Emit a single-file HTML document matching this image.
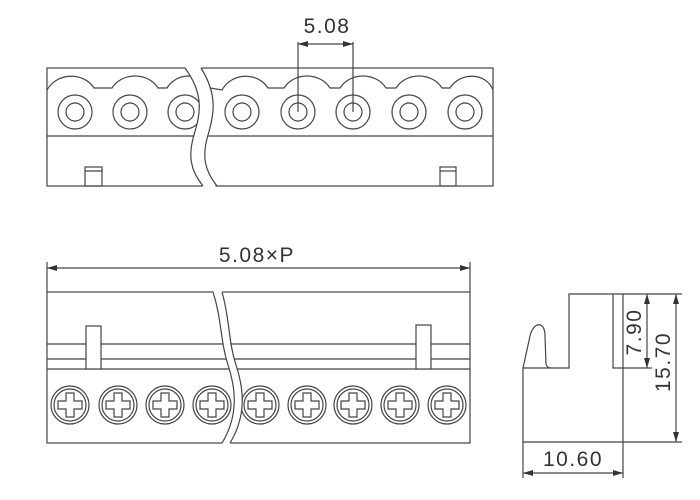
<!DOCTYPE html>
<html><head><style>body{margin:0;background:#fff}svg{display:block}</style></head><body>
<svg width="700" height="500" viewBox="0 0 700 500" xmlns="http://www.w3.org/2000/svg" font-family="Liberation Sans, sans-serif">
<defs>
<marker id="a" viewBox="0 0 10 6" refX="10" refY="3" markerWidth="12" markerHeight="6" orient="auto-start-reverse" markerUnits="userSpaceOnUse"><path d="M0,0L10,3L0,6z" fill="#333"/></marker>
<g id="scr"><circle r="19" fill="#fff" stroke="#444" stroke-width="1.2"/><circle r="16" fill="none" stroke="#444" stroke-width="1.2"/><path d="M-4,-12H4V-4H12V4H4V12H-4V4H-12V-4H-4Z" fill="none" stroke="#444" stroke-width="1.2"/></g>
<g id="hole"><circle r="17" fill="#fff" stroke="#444" stroke-width="1.2"/><circle r="9" fill="none" stroke="#444" stroke-width="1.2"/></g>
</defs>
<g stroke="#444" stroke-width="1.2" fill="none">
<rect x="47" y="68" width="446" height="118"/>
<line x1="47" y1="136" x2="493" y2="136"/>
<path d="M47,90 C57,72 84,72 94,88 L112,88 C122,72 148,72 158,88 L167,88 C177,72 200,72 210,88 L222,90 C232,72 258,72 268,88 L284,88 C294,72 320,72 330,88 L340,88 C350,72 376,72 386,88 L396,88 C406,72 432,72 442,88 L450,88 C460,72 486,72 493,90"/>
<use href="#hole" x="75" y="112"/><use href="#hole" x="130" y="112"/><use href="#hole" x="185" y="112"/><use href="#hole" x="242" y="112"/><use href="#hole" x="298" y="112"/><use href="#hole" x="353" y="112"/><use href="#hole" x="409" y="112"/><use href="#hole" x="465" y="112"/>
<rect x="85" y="167" width="17" height="19"/><rect x="440" y="167" width="16" height="19"/>
<line x1="85" y1="171" x2="102" y2="171"/><line x1="440" y1="171" x2="456" y2="171"/>
<path d="M185,67 C205,95 200,115 194,135 C188,155 190,170 203,187 L216,187 C204,170 202,155 208,135 C214,115 218,95 201,67 Z" fill="#fff" stroke="none"/>
<path d="M185,68 C205,95 200,115 194,135 C188,155 190,170 203,186"/>
<path d="M201,68 C218,95 214,115 208,135 C202,155 204,170 217,186"/>
<line x1="298" y1="42" x2="298" y2="112"/><line x1="353" y1="42" x2="353" y2="112"/>
<line x1="298" y1="44" x2="353" y2="44" marker-start="url(#a)" marker-end="url(#a)"/>
<line x1="47" y1="262" x2="47" y2="292"/><line x1="470" y1="262" x2="470" y2="292"/>
<line x1="47" y1="268" x2="470" y2="268" marker-start="url(#a)" marker-end="url(#a)"/>
<rect x="47" y="292" width="423" height="151"/>
<line x1="47" y1="344" x2="470" y2="344"/><line x1="47" y1="359" x2="470" y2="359"/><line x1="47" y1="369" x2="470" y2="369"/>
<rect x="86" y="326" width="15" height="43" fill="#fff"/><rect x="416" y="325" width="15" height="44" fill="#fff"/>
<use href="#scr" x="70" y="405"/><use href="#scr" x="118" y="405"/><use href="#scr" x="165" y="405"/><use href="#scr" x="212" y="405"/><use href="#scr" x="260" y="405"/><use href="#scr" x="307" y="405"/><use href="#scr" x="353" y="405"/><use href="#scr" x="400" y="405"/><use href="#scr" x="447" y="405"/>
<path d="M213,291 C222,320 220,340 228,365 C238,395 236,420 222,444 L230,444 C244,420 246,395 236,365 C228,340 226,320 222,291 Z" fill="#fff" stroke="none"/>
<path d="M213,292 C222,320 220,340 228,365 C238,395 236,420 222,443"/>
<path d="M222,292 C230,320 228,340 236,365 C246,395 244,420 230,443"/>
<path d="M569,368 V294 H623 V442 H523 V368 Z"/>
<path d="M613,294 V368 H623"/>
<path d="M523,368 L530,336 C533,322 545,320 545,336 L546,364 Q547,368 551,368"/>
<line x1="623" y1="294" x2="682" y2="294"/><line x1="623" y1="368" x2="652" y2="368"/><line x1="623" y1="442" x2="682" y2="442"/>
<line x1="647" y1="294" x2="647" y2="368" marker-start="url(#a)" marker-end="url(#a)"/>
<line x1="676" y1="294" x2="676" y2="442" marker-start="url(#a)" marker-end="url(#a)"/>
<line x1="523" y1="442" x2="523" y2="478"/><line x1="623" y1="442" x2="623" y2="478"/>
<line x1="523" y1="473" x2="623" y2="473" marker-start="url(#a)" marker-end="url(#a)"/>
</g>
<g fill="#333" font-size="21" letter-spacing="1.5">
<text x="327" y="33" text-anchor="middle">5.08</text>
<text x="257" y="262" text-anchor="middle">5.08×P</text>
<text x="573" y="466" text-anchor="middle">10.60</text>
<text transform="translate(641,332) rotate(-90)" text-anchor="middle">7.90</text>
<text transform="translate(670,362) rotate(-90)" text-anchor="middle">15.70</text>
</g>
</svg>
</body></html>
